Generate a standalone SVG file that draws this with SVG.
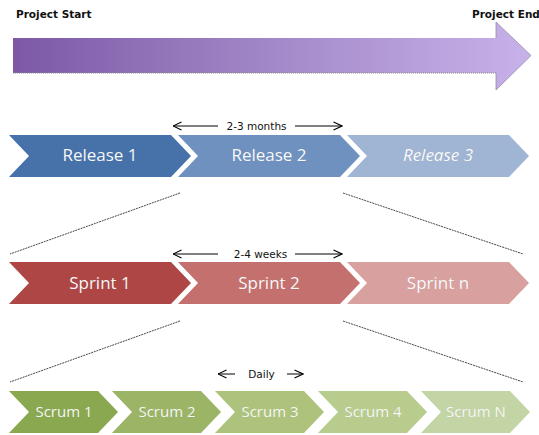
<svg xmlns="http://www.w3.org/2000/svg" width="539" height="435" viewBox="0 0 539 435">
  <defs>
    <linearGradient id="timeline" x1="13" y1="0" x2="531" y2="0" gradientUnits="userSpaceOnUse">
      <stop offset="0" stop-color="#7d58a6"/>
      <stop offset="0.5" stop-color="#a288c8"/>
      <stop offset="1" stop-color="#c8b2ea"/>
    </linearGradient>
    <marker id="open" viewBox="0 0 10 10" refX="9.5" refY="5" markerWidth="10" markerHeight="10" markerUnits="userSpaceOnUse" orient="auto-start-reverse">
      <path d="M1,1 L9.5,5 L1,9" fill="none" stroke="#000" stroke-width="1.1"/>
    </marker>
    <!-- chevron shapes: big (182 wide) and small (109 wide), 42 high -->
    <path id="chevL" d="M0,0 H162 L182,21 L162,42 H0 L20,21 Z"/>
    <path id="chevS" d="M0,0 H89 L109,21 L89,42 H0 L20,21 Z"/>
  </defs>
  <style>
    .hdr { font-family: "DejaVu Sans", Verdana, sans-serif; font-weight: bold; font-size: 10.5px; fill: #111; }
    .span { font-family: "DejaVu Sans", Verdana, sans-serif; font-size: 10.5px; fill: #111; }
    .lbl { font-family: "Open Sans", "DejaVu Sans", sans-serif; font-size: 17px; fill: #fff; text-anchor: middle; stroke: rgba(0,0,0,0.12); stroke-width: 0.4; }
    .lbls { font-size: 15px; }
    .conn { stroke: #333; stroke-width: 0.9; stroke-dasharray: 2 0.8; fill: none; }
    .dimh { stroke: #000; stroke-width: 1; fill: none; marker-end: url(#open); }
  </style>

  <!-- project timeline -->
  <g id="timeline-arrow">
    <path d="M13,38 H496 V22 L531,55.5 L496,90 V73 H13 Z" fill="url(#timeline)"/>
    <path d="M13,73 H496" stroke="#8a8a8a" stroke-width="1" stroke-dasharray="1 1"/>
    <path d="M496,73 V90 L531,55.5 L496,22 V38" fill="none" stroke="#9a8aa8" stroke-width="0.8"/>
  </g>
  <g id="project-start"><text class="hdr" x="16" y="18">Project Start</text></g>
  <g id="project-end"><text class="hdr" x="472" y="18">Project End</text></g>

  <!-- connectors between levels -->
  <g id="connectors">
    <line class="conn" x1="180" y1="193" x2="10" y2="254"/>
    <line class="conn" x1="343" y1="193" x2="523" y2="254"/>
    <line class="conn" x1="180" y1="321" x2="10" y2="382"/>
    <line class="conn" x1="343" y1="321" x2="523" y2="382"/>
    <line class="dimh" x1="218" y1="126" x2="173" y2="126"/>
    <line class="dimh" x1="295" y1="126" x2="342" y2="126"/>
    <line class="dimh" x1="218" y1="254" x2="173" y2="254"/>
    <line class="dimh" x1="295" y1="254" x2="342" y2="254"/>
    <line class="dimh" x1="235" y1="374" x2="218" y2="374"/>
    <line class="dimh" x1="287" y1="374" x2="303" y2="374"/>
  </g>
  <g id="span-labels">
    <text class="span" x="256.5" y="130" text-anchor="middle">2-3 months</text>
    <text class="span" x="260.5" y="258" text-anchor="middle">2-4 weeks</text>
    <text class="span" x="261.5" y="378" text-anchor="middle">Daily</text>
  </g>

  <!-- releases -->
  <g id="release-1">
    <use href="#chevL" x="9" y="135" fill="#4672a9"/>
    <text class="lbl" x="100" y="161">Release 1</text>
  </g>
  <g id="release-2">
    <use href="#chevL" x="178" y="135" fill="#6f91c0"/>
    <text class="lbl" x="269" y="161">Release 2</text>
  </g>
  <g id="release-3">
    <use href="#chevL" x="347" y="135" fill="#a0b4d4"/>
    <text class="lbl" x="438" y="161" font-style="italic">Release 3</text>
  </g>

  <!-- sprints -->
  <g id="sprint-1">
    <use href="#chevL" x="9" y="262" fill="#ad4644"/>
    <text class="lbl" x="100" y="289">Sprint 1</text>
  </g>
  <g id="sprint-2">
    <use href="#chevL" x="178" y="262" fill="#c4706e"/>
    <text class="lbl" x="269" y="289">Sprint 2</text>
  </g>
  <g id="sprint-n">
    <use href="#chevL" x="347" y="262" fill="#d8a09f"/>
    <text class="lbl" x="438" y="289">Sprint n</text>
  </g>

  <!-- scrums -->
  <g id="scrum-1">
    <use href="#chevS" x="9" y="391" fill="#8aa84f"/>
    <text class="lbl lbls" x="64" y="417">Scrum 1</text>
  </g>
  <g id="scrum-2">
    <use href="#chevS" x="112" y="391" fill="#9bb465"/>
    <text class="lbl lbls" x="167" y="417">Scrum 2</text>
  </g>
  <g id="scrum-3">
    <use href="#chevS" x="215" y="391" fill="#adc37c"/>
    <text class="lbl lbls" x="270" y="417">Scrum 3</text>
  </g>
  <g id="scrum-4">
    <use href="#chevS" x="318" y="391" fill="#b8cc8e"/>
    <text class="lbl lbls" x="373" y="417">Scrum 4</text>
  </g>
  <g id="scrum-n">
    <use href="#chevS" x="421" y="391" fill="#c3d4a5"/>
    <text class="lbl lbls" x="476" y="417">Scrum N</text>
  </g>
</svg>
